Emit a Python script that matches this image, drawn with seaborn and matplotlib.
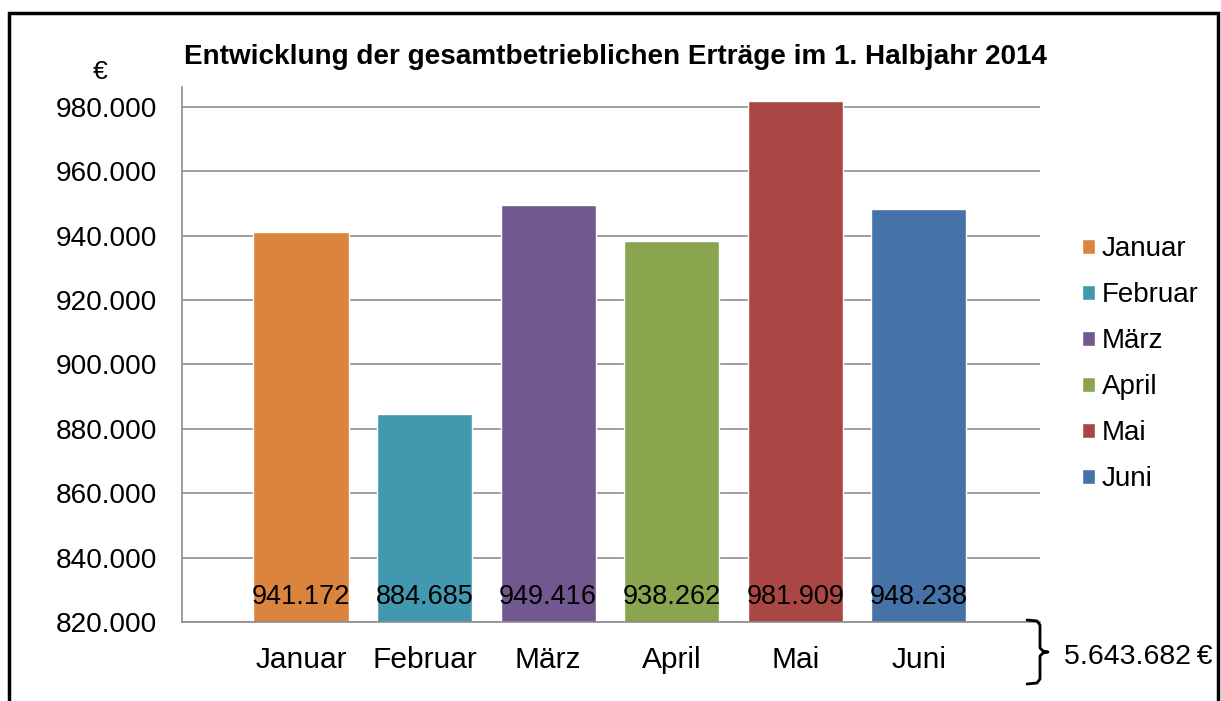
import matplotlib
matplotlib.use("Agg")
import matplotlib.pyplot as plt
import seaborn as sns
import pandas as pd
from matplotlib.lines import Line2D
from matplotlib.patches import Rectangle

# Data
months = ["Januar", "Februar", "März", "April", "Mai", "Juni"]
revenue = [941172, 884685, 949416, 938262, 981909, 948238]
colors = ["#DA843E", "#4198AF", "#71588F", "#89A54E", "#AA4643", "#4572A7"]
yticks = [820000, 840000, 860000, 880000, 900000, 920000, 940000, 960000, 980000]


def fmt(v):
    return f"{v:,}".replace(",", ".")


df = pd.DataFrame({"Monat": months, "Ertrag": revenue})

sns.set_style("white")
plt.rcParams["font.family"] = ["Liberation Sans", "DejaVu Sans"]
plt.rcParams["text.color"] = "black"
plt.rcParams["xtick.labelcolor"] = "black"
plt.rcParams["ytick.labelcolor"] = "black"

W, H = 1221, 701
def fx(x):
    return x / W
def fy(y):
    return 1 - y / H

fig = plt.figure(figsize=(12.21, 7.01), dpi=100)
ax = fig.add_axes([fx(182), fy(622), fx(1040) - fx(182), fy(87) - fy(622)])

sns.barplot(data=df, x="Monat", y="Ertrag", hue="Monat", palette=colors,
            dodge=False, width=0.77, saturation=1, legend=True, ax=ax)

ax.set_ylim(820000, 986200)
ax.set_xlim(-0.963, 5.98)
ax.set_yticks(yticks)
ax.set_yticklabels([fmt(t) for t in yticks], fontsize=20.2)
ax.set_xticks(range(len(months)))
ax.set_xticklabels(months, fontsize=21.5)
ax.set_xlabel("")
ax.set_ylabel("")
ax.yaxis.grid(True, color="#8C8C8C", linewidth=1.2)
ax.set_axisbelow(True)
for s in ["top", "right"]:
    ax.spines[s].set_visible(False)
for s in ["left", "bottom"]:
    ax.spines[s].set_color("#8C8C8C")
    ax.spines[s].set_linewidth(1.2)
ax.tick_params(axis="y", length=6.5, color="#8C8C8C", width=1.2, pad=11.5)
ax.tick_params(axis="x", length=0, pad=17)

# value labels at the bottom of each bar
for i, v in enumerate(revenue):
    ax.text(i, 827800, fmt(v), ha="center", va="center", fontsize=19.5)

# legend
handles, labels = ax.get_legend_handles_labels()
ax.legend(handles, labels, loc="center left", bbox_to_anchor=(1.049, 0.482),
          frameon=False, fontsize=20, handlelength=0.45, handleheight=0.45,
          handletextpad=0.25, labelspacing=0.72, borderpad=0, borderaxespad=0)

fig.text(fx(615), fy(57), "Entwicklung der gesamtbetrieblichen Erträge im 1. Halbjahr 2014",
         ha="center", va="center", fontsize=20.1, fontweight="bold")
fig.text(fx(100), fy(72), "€", ha="center", va="center", fontsize=19)

# bracket with sum
bx = [1027, 1037, 1040, 1040, 1043, 1048, 1043, 1040, 1040, 1037, 1027]
by = [620, 621, 625, 648, 651, 652, 653, 656, 679, 683, 684]
fig.add_artist(Line2D([fx(x) for x in bx], [fy(y) for y in by], color="black", linewidth=2))
fig.text(fx(1064), fy(657), fmt(sum(revenue)) + "\u2009€", ha="left", va="center", fontsize=20.5)

# outer frame
fig.add_artist(Rectangle((fx(9), -0.02), fx(1218) - fx(9), fy(13) + 0.02,
                         fill=False, edgecolor="black", linewidth=2.5,
                         transform=fig.transFigure))

fig.savefig("out.png", dpi=100)
